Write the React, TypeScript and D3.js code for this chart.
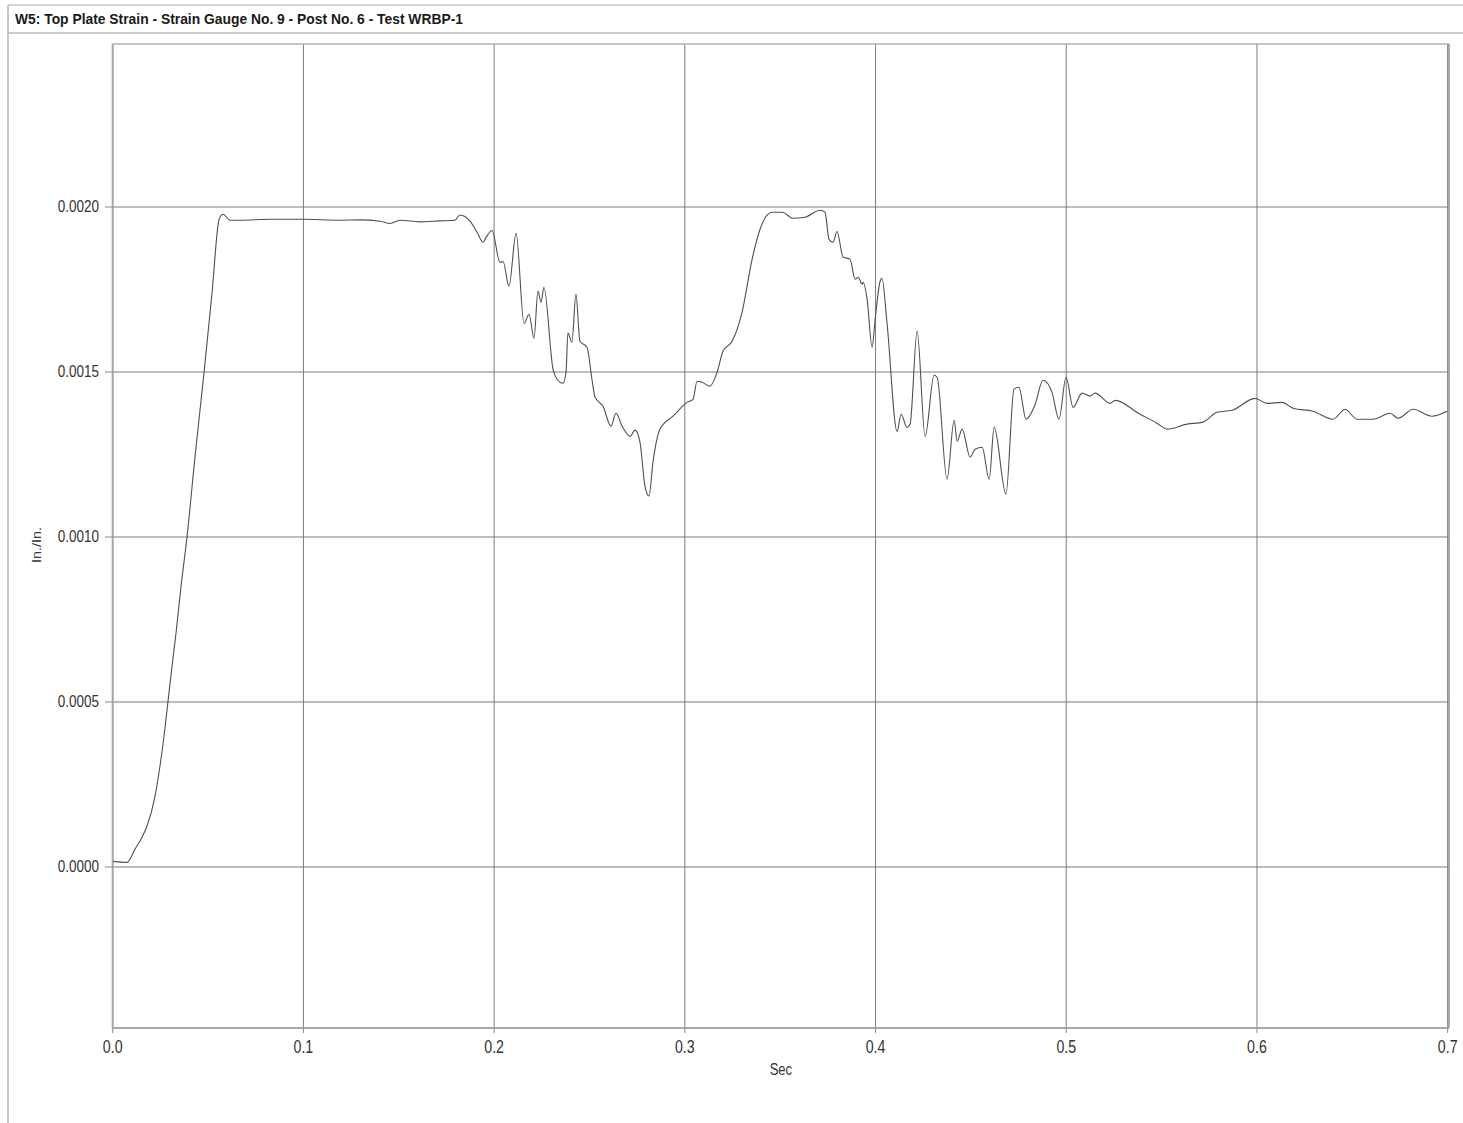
import React from "react";
import * as d3 from "d3";

const TITLE = "W5: Top Plate Strain - Strain Gauge No. 9 - Post No. 6 - Test WRBP-1";
const X_LABEL = "Sec";
const Y_LABEL = "In./In.";
const X_TICKS = [0, 0.1, 0.2, 0.3, 0.4, 0.5, 0.6, 0.7];
const Y_TICKS = [0, 0.0005, 0.001, 0.0015, 0.002];

const TIME = [
  0.0002, 0.0075, 0.0117, 0.0154, 0.018, 0.0222, 0.0248, 0.0269, 0.029, 0.0311,
  0.0333, 0.0358, 0.039, 0.0432, 0.0479, 0.0521, 0.0558, 0.0579, 0.0615, 0.0668,
  0.0826, 0.0998, 0.1192, 0.1297, 0.1402, 0.1454, 0.1507, 0.1611, 0.1716, 0.1795,
  0.1821, 0.1874, 0.1911, 0.1942, 0.1958, 0.1989, 0.2031, 0.2047, 0.2078, 0.2115,
  0.2157, 0.2183, 0.2209, 0.223, 0.2246, 0.2261, 0.2309, 0.233, 0.2361, 0.2377,
  0.2387, 0.2408, 0.2429, 0.245, 0.2487, 0.2513, 0.2529, 0.2571, 0.2613, 0.2639,
  0.2671, 0.2713, 0.2739, 0.2765, 0.2791, 0.2812, 0.2833, 0.287, 0.2938, 0.3012,
  0.3043, 0.3064, 0.309, 0.3132, 0.3169, 0.32, 0.3248, 0.33, 0.3353, 0.3394,
  0.3457, 0.351, 0.3567, 0.363, 0.3709, 0.3735, 0.3756, 0.3777, 0.3798, 0.383,
  0.3866, 0.3893, 0.3909, 0.393, 0.3935, 0.3956, 0.3982, 0.3998, 0.4024, 0.4034,
  0.406, 0.4113, 0.4134, 0.4165, 0.4181, 0.4218, 0.426, 0.4307, 0.4323, 0.4375,
  0.4412, 0.4428, 0.4454, 0.4496, 0.4522, 0.4559, 0.4596, 0.4622, 0.4684, 0.4726,
  0.4752, 0.4789, 0.4836, 0.4878, 0.4925, 0.4962, 0.4999, 0.5036, 0.5083, 0.5125,
  0.5151, 0.523, 0.5256, 0.5387, 0.5476, 0.5529, 0.5634, 0.5717, 0.5791, 0.587,
  0.599, 0.6053, 0.6132, 0.6189, 0.6294, 0.6399, 0.6462, 0.6525, 0.6609, 0.6698,
  0.674, 0.6819, 0.6918, 0.6997,
];

const STRAIN = [
  0.000017, 0.000014, 0.000054, 0.00009, 0.000124, 0.000215, 0.000306, 0.000396, 0.000502, 0.000608,
  0.000714, 0.000849, 0.001002, 0.001245, 0.001499, 0.001741, 0.001963, 0.001978, 0.00196, 0.00196,
  0.001963, 0.001963, 0.00196, 0.001961, 0.001957, 0.00195, 0.00196, 0.001955, 0.001958, 0.00196,
  0.001976, 0.001957, 0.001923, 0.001893, 0.001908, 0.001929, 0.001832, 0.001835, 0.00176, 0.00192,
  0.001647, 0.001675, 0.001602, 0.001745, 0.001711, 0.001757, 0.001508, 0.001478, 0.001466, 0.0015,
  0.001618, 0.00159, 0.001736, 0.001593, 0.001575, 0.001478, 0.001424, 0.001396, 0.001336, 0.001375,
  0.001336, 0.001305, 0.001324, 0.001287, 0.001154, 0.001124, 0.001227, 0.001327, 0.001366, 0.001408,
  0.001417, 0.001472, 0.001469, 0.001457, 0.001499, 0.001563, 0.001593, 0.001681, 0.001842, 0.001932,
  0.001984, 0.001984, 0.001966, 0.001969, 0.00199, 0.001984, 0.001902, 0.001893, 0.001926, 0.001848,
  0.001842, 0.001781, 0.001787, 0.001766, 0.001772, 0.00172, 0.001575, 0.00166, 0.001775, 0.001784,
  0.00165, 0.00132, 0.001372, 0.001332, 0.001341, 0.001624, 0.001305, 0.00149, 0.001484, 0.001175,
  0.001354, 0.00129, 0.001327, 0.001242, 0.001266, 0.001272, 0.001175, 0.001333, 0.00113, 0.001448,
  0.001454, 0.001357, 0.0014, 0.001475, 0.001439, 0.001357, 0.001484, 0.001393, 0.001436, 0.001427,
  0.001436, 0.001405, 0.001414, 0.001372, 0.001345, 0.001327, 0.001342, 0.001348, 0.001378, 0.001384,
  0.00142, 0.001405, 0.001408, 0.00139, 0.001381, 0.001357, 0.001387, 0.001357, 0.001357, 0.001375,
  0.00136, 0.001387, 0.001366, 0.001381,
];

const W = 1463;
const H = 1123;
const PL = 112.7;
const PR = 1449;
const PT = 44;
const PB = 1028;

export default function App() {
  const x = d3.scaleLinear().domain([0, 0.7007]).range([PL, PR]);
  const y = d3.scaleLinear().domain([-0.000488, 0.002494]).range([PB, PT]);
  const data = TIME.map((t, i) => [t, STRAIN[i]] as [number, number]);
  const line = d3
    .line<[number, number]>()
    .x((d) => x(d[0]))
    .y((d) => y(d[1]))
    .curve(d3.curveMonotoneX);
  const font = "Arial, 'Liberation Sans', sans-serif";

  return (
    <svg
      width={W}
      height={H}
      style={{ position: "absolute", left: 0, top: 0, background: "#fff" }}
      fontFamily={font}
    >
      <rect x={0} y={0} width={W} height={H} fill="#fff" />
      {/* outer frame */}
      <line x1={8} y1={5} x2={W} y2={5} stroke="#c4c4c4" strokeWidth={1.5} />
      <line x1={8} y1={5} x2={8} y2={H} stroke="#b4b4b4" strokeWidth={1.5} />
      <line x1={8} y1={33} x2={W} y2={33} stroke="#b8b8b8" strokeWidth={1.5} />
      <text
        x={15}
        y={24}
        fontSize={15.5}
        fontWeight="bold"
        fill="#1a1a1a"
        textLength={448}
        lengthAdjust="spacingAndGlyphs"
      >
        {TITLE}
      </text>

      {/* grid */}
      {X_TICKS.map((t) => (
        <line key={"gx" + t} x1={x(t)} x2={x(t)} y1={PT} y2={PB} stroke="#7c7c7c" strokeWidth={1} />
      ))}
      {Y_TICKS.map((t) => (
        <line key={"gy" + t} x1={PL} x2={PR} y1={y(t)} y2={y(t)} stroke="#7c7c7c" strokeWidth={1} />
      ))}

      {/* plot frame */}
      <line x1={PL} x2={PR} y1={PT} y2={PT} stroke="#b0b0b0" strokeWidth={1.5} />
      <line x1={PR} x2={PR} y1={PT} y2={PB} stroke="#909090" strokeWidth={1.5} />
      <line x1={PL} x2={PL} y1={PT} y2={PB} stroke="#a8a8a8" strokeWidth={2} />
      <line x1={PL} x2={PR} y1={PB} y2={PB} stroke="#a8a8a8" strokeWidth={2} />

      {/* y ticks */}
      {Y_TICKS.map((t) => (
        <g key={"yt" + t}>
          <line x1={105} x2={PL} y1={y(t)} y2={y(t)} stroke="#8a8a8a" strokeWidth={1} />
          <text
            transform={`translate(99,${y(t) + 5}) scale(1,1.2)`}
            textAnchor="end"
            fontSize={13.5}
            fill="#333"
          >
            {d3.format(".4f")(t)}
          </text>
        </g>
      ))}

      {/* x ticks */}
      {X_TICKS.map((t) => (
        <g key={"xt" + t}>
          <line x1={x(t)} x2={x(t)} y1={PB} y2={PB + 5} stroke="#8a8a8a" strokeWidth={1} />
          <text
            transform={`translate(${x(t)},1053) scale(1,1.25)`}
            textAnchor="middle"
            fontSize={14.2}
            fill="#333"
          >
            {d3.format(".1f")(t)}
          </text>
        </g>
      ))}

      {/* axis labels */}
      <text
        transform={`translate(${(PL + PR) / 2},1075) scale(1,1.2)`}
        textAnchor="middle"
        fontSize={13}
        fill="#333"
      >
        {X_LABEL}
      </text>
      <text
        transform={`translate(41,545) rotate(-90) scale(1.2,1)`}
        textAnchor="middle"
        fontSize={12}
        fill="#333"
      >
        {Y_LABEL}
      </text>

      {/* data */}
      <path d={line(data) || ""} fill="none" stroke="#505050" strokeWidth={1.1} />
    </svg>
  );
}
